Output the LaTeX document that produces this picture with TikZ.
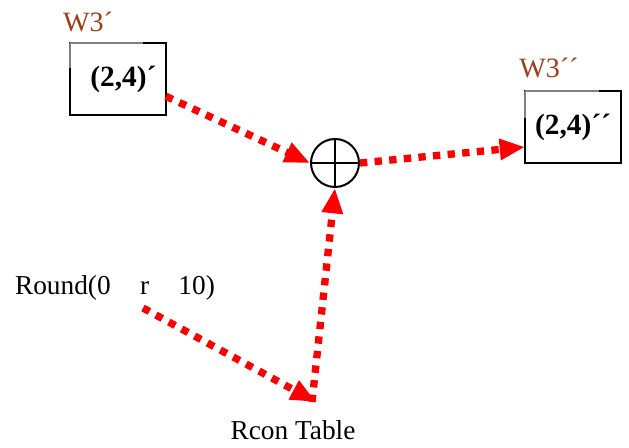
\documentclass[tikz,border=0pt]{standalone}
\usepackage{fontspec}
\setmainfont{Liberation Serif}
\usetikzlibrary{arrows.meta, positioning}
\definecolor{wbrown}{RGB}{160,60,20}

\begin{document}
\begin{tikzpicture}[
    x=0.75pt, y=-0.75pt,
    dotarr/.style={-{Triangle[length=19pt, width=15pt]}, red, line width=5.5pt, dash pattern=on 5.5pt off 5.5pt},
    keybox/.style={rectangle, draw, line width=1.5pt, outer sep=0pt, minimum width=72pt, minimum height=54pt, inner sep=0pt, font=\fontsize{22}{24}\selectfont\bfseries},
    wlab/.style={font=\fontsize{21}{24}\selectfont, text=wbrown, inner sep=0pt},
    txt/.style={font=\fontsize{20.5}{23}\selectfont, inner sep=0pt},
    greyedge/.style={gray, line width=1.6pt},
]
\useasboundingbox (0,0) rectangle (629,448);

% Key words
\node[wlab] (wa) at (88,22) {W3´};
\node[keybox] (ka) at (118,79) {\hspace{8pt}(2,4)´};
\node[wlab] (wb) at (549,68) {W3´´};
\node[keybox] (kb) at (573,127) {(2,4)´´};
\draw[greyedge] (ka.north west) -- ++(73,0);
\draw[greyedge] (ka.north west) -- ++(0,25);
\draw[greyedge] (kb.north west) -- ++(74,0);
\draw[greyedge] (kb.north west) -- ++(0,27);

% XOR
\node[circle, draw, line width=1.5pt, minimum size=36pt, inner sep=0pt] (xo) at (335,163) {};
\draw[line width=1.5pt] (xo.north) -- (xo.south);
\draw[line width=1.5pt] (xo.west) -- (xo.east);

% Round and Rcon
\node[txt] (rd) at (115,288) {Round(0\hspace{22pt}r\hspace{22pt}10)};
\node[txt] (rc) at (293,430) {Rcon Table};
\coordinate (rs) at (143,308);
\coordinate (rt) at (316,402);

% Arrows
\draw[dotarr] ([yshift=-13]ka.east) -- (xo.west);
\draw[dotarr] (xo.east) -- ([yshift=-15]kb.west);
\draw[dotarr] (rs) -- (rt);
\draw[dotarr] ([xshift=-3]rt) -- (xo.south);

\end{tikzpicture}
\end{document}
